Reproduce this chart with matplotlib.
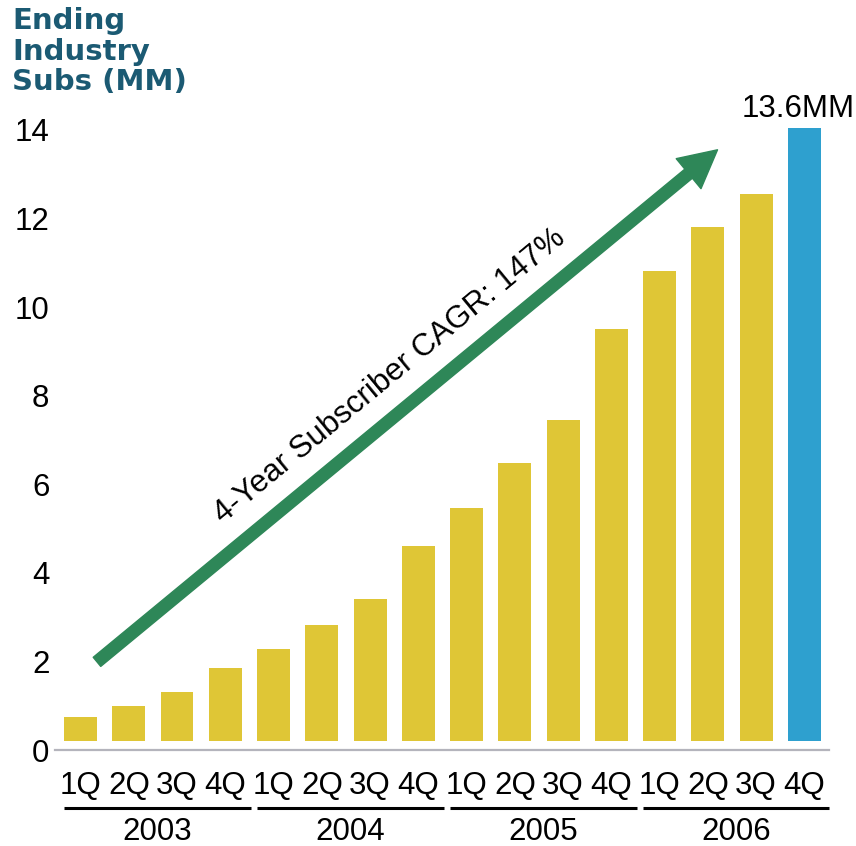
import matplotlib
matplotlib.use("Agg")
import matplotlib.pyplot as plt
from matplotlib.patches import FancyArrowPatch
import matplotlib.transforms as mtransforms

plt.rcParams['font.family'] = ['Liberation Sans', 'DejaVu Sans']

quarters = ["1Q", "2Q", "3Q", "4Q"] * 4
years = ["2003", "2004", "2005", "2006"]
# Bar tops (MM subscribers, axis scale)
subs = [0.75, 0.99, 1.31, 1.85, 2.28, 2.82, 3.41, 4.61,
        5.46, 6.48, 7.45, 9.50, 10.81, 11.81, 12.55, 14.04]
bar_base = 0.2
final_label = "13.6MM"
arrow_text = "4-Year Subscriber CAGR: 147%"
yticks = [0, 2, 4, 6, 8, 10, 12, 14]
y_title = "Ending\nIndustry\nSubs (MM)"

yellow = "#DFC636"
blue = "#2EA0CF"
green = "#2E8758"
title_color = "#1B5A73"

fig = plt.figure(figsize=(8.56, 8.46), dpi=100)
ax = fig.add_axes([55/856, (846-750)/846, 774/856, (750-121)/846])

x = list(range(len(subs)))
colors = [yellow] * (len(subs) - 1) + [blue]
heights = [v - bar_base for v in subs]
ax.bar(x, heights, bottom=bar_base, width=0.68, color=colors, zorder=2)

ax.set_xlim(-0.53, 15.51)
ax.set_ylim(0, 14.2)

for s in ["top", "right", "left"]:
    ax.spines[s].set_visible(False)
ax.spines["bottom"].set_color("#B4B4BC")
ax.spines["bottom"].set_linewidth(1.6)

ax.set_yticks(yticks)
ax.set_yticklabels([str(t) for t in yticks], fontsize=22.5)
ax.set_xticks(x)
ax.set_xticklabels(quarters, fontsize=22.5)
ax.tick_params(axis="both", length=0)
ax.tick_params(axis="y", pad=4)
ax.tick_params(axis="x", pad=15)

# Year grouping lines and labels
trans = mtransforms.blended_transform_factory(ax.transData, ax.transAxes)
for gi, yr in enumerate(years):
    start = gi * 4
    x0 = start - 0.35
    x1 = start + 3.53 if gi < 3 else 15.51
    ax.plot([x0, x1], [-0.0915, -0.0915], transform=trans, color="black",
            lw=2.2, clip_on=False, solid_capstyle="butt")
    ax.text((x0 + x1) / 2, -0.13, yr, transform=trans, ha="center",
            va="center", fontsize=22.5)

# Final value label
ax.text(x[-1] - 0.13, subs[-1] + 0.1, final_label, ha="center", va="bottom",
        fontsize=22.5)

# CAGR arrow
arrow = FancyArrowPatch((0.34, 1.99), (13.2, 13.55),
                        arrowstyle="simple,head_length=2.7,head_width=2.8,tail_width=0.85",
                        mutation_scale=10, color=green, shrinkA=0, shrinkB=0,
                        zorder=3)
ax.add_patch(arrow)
ax.text(6.4, 8.45, arrow_text, rotation=39.5, rotation_mode="anchor",
        ha="center", va="center", fontsize=22.5)

fig.text(12/856, 1 - 7/846, y_title, ha="left", va="top", fontsize=21,
         fontweight="bold", color=title_color, family="DejaVu Sans",
         linespacing=1.12)

fig.savefig("out.png", dpi=100)
